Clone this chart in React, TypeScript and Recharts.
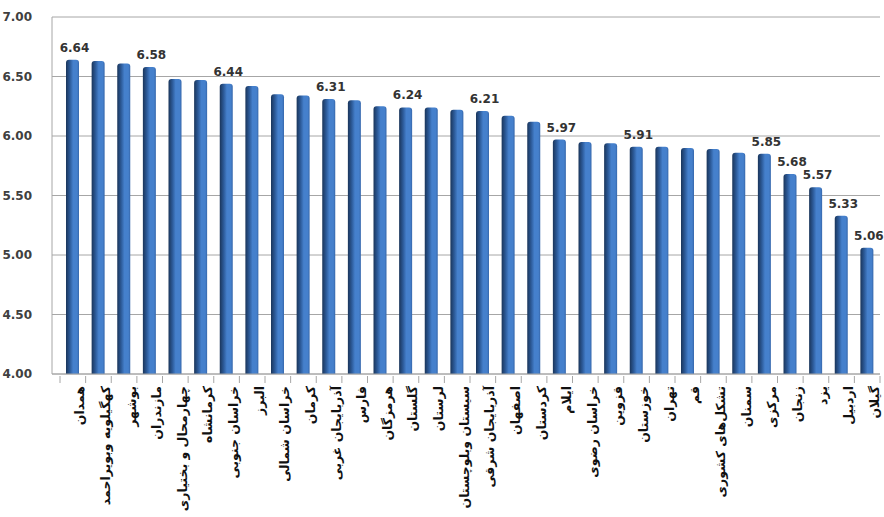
import React from 'react';
import { BarChart, Bar, XAxis, YAxis, CartesianGrid, LabelList } from 'recharts';

const provinces = [
  'همدان', 'کهگیلویه وبویراحمد', 'بوشهر', 'مازندران', 'چهارمحال و بختیاری', 'کرمانشاه',
  'خراسان جنوبی', 'البرز', 'خراسان شمالی', 'کرمان', 'آذربایجان غربی', 'فارس',
  'هرمزگان', 'گلستان', 'لرستان', 'سیستان وبلوچستان', 'آذربایجان شرقی', 'اصفهان',
  'کردستان', 'ایلام', 'خراسان رضوی', 'قزوین', 'خوزستان', 'تهران',
  'قم', 'تشکل‌های کشوری', 'سمنان', 'مرکزی', 'زنجان', 'یزد', 'اردبیل', 'گیلان',
];

const scores = [
  6.64, 6.63, 6.61, 6.58, 6.48, 6.47, 6.44, 6.42, 6.35, 6.34, 6.31, 6.30,
  6.25, 6.24, 6.24, 6.22, 6.21, 6.17, 6.12, 5.97, 5.95, 5.94, 5.91, 5.91,
  5.90, 5.89, 5.86, 5.85, 5.68, 5.57, 5.33, 5.06,
];

// only some bars carry a printed value in the original
const printed = [
  6.64, null, null, 6.58, null, null, 6.44, null, null, null, 6.31, null,
  null, 6.24, null, null, 6.21, null, null, 5.97, null, null, 5.91, null,
  null, null, null, 5.85, 5.68, 5.57, 5.33, 5.06,
];

const yTicks = [4, 4.5, 5, 5.5, 6, 6.5, 7];

const data = provinces.map((name, i) => ({ name, score: scores[i], label: printed[i] }));

const font = '"DejaVu Sans", sans-serif';
const band = 820 / provinces.length;

const ProvinceTick = (props: any) => {
  const { x, y, payload, index } = props;
  const last = index === provinces.length - 1;
  return (
    <g>
      <line x1={x - band / 2} y1={y - 6} x2={x - band / 2} y2={y + 1} stroke="#a6a6a6" />
      {last ? <line x1={x + band / 2} y1={y - 6} x2={x + band / 2} y2={y + 1} stroke="#a6a6a6" /> : null}
      <text
        transform={`translate(${x + 7},${y + 4}) rotate(-90)`}
        textAnchor="end"
        dominantBaseline="central"
        fontFamily={font}
        fontWeight="bold"
        fontSize={12.5}
        fill="#111"
      >
        {payload.value}
      </text>
    </g>
  );
};

const ValueLabel = (props: any) => {
  const { x, y, width, value } = props;
  if (value === null || value === undefined) return null;
  return (
    <text
      x={x + width / 2 + 2}
      y={y - 8}
      textAnchor="middle"
      fontFamily={font}
      fontWeight="bold"
      fontSize={12}
      fill="#333"
    >
      {Number(value).toFixed(2)}
    </text>
  );
};

const App: React.FC = () => {
  return (
    <div style={{ position: 'absolute', left: 0, top: 0, background: '#fff' }}>
      <BarChart
        width={884}
        height={517}
        data={data}
        margin={{ top: 17, right: 4, bottom: 0, left: 0 }}
        barCategoryGap="50%"
      >
        <defs>
          <linearGradient id="barShade" x1="0" y1="0" x2="1" y2="0">
            <stop offset="0%" stopColor="#1a355a" />
            <stop offset="30%" stopColor="#2c5a98" />
            <stop offset="55%" stopColor="#4580cc" />
            <stop offset="85%" stopColor="#4580cc" />
            <stop offset="100%" stopColor="#3667ab" />
          </linearGradient>
        </defs>
        <CartesianGrid vertical={false} stroke="#a6a6a6" />
        <XAxis
          dataKey="name"
          interval={0}
          height={143}
          stroke="#a6a6a6"
          tickLine={false}
          padding={{ left: 8, right: 0 }}
          tick={<ProvinceTick />}
        />
        <YAxis
          domain={[4, 7]}
          ticks={yTicks}
          width={52}
          tickLine={false}
          tickMargin={14}
          stroke="#a6a6a6"
          tickFormatter={(v: number) => v.toFixed(2)}
          tick={{ fontFamily: font, fontWeight: 'bold', fontSize: 12, fill: '#404040' }}
        />
        <Bar dataKey="score" fill="url(#barShade)" barSize={13} radius={[3, 3, 0, 0]} isAnimationActive={false}>
          <LabelList dataKey="label" content={<ValueLabel />} />
        </Bar>
      </BarChart>
    </div>
  );
};

export default App;
